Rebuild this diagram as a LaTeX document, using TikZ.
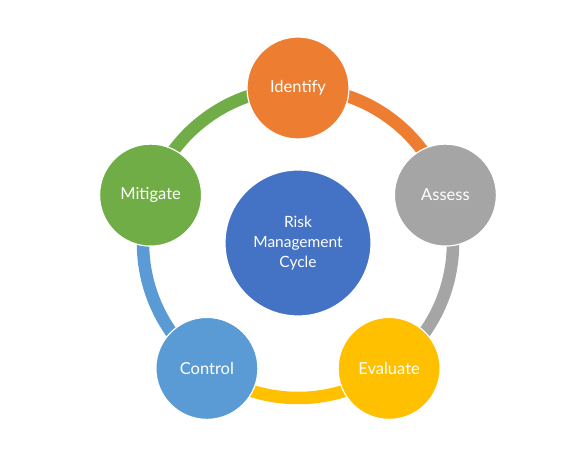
\documentclass[tikz,border=0pt]{standalone}
\usepackage{fontspec}
\setmainfont{Lato}
\usetikzlibrary{backgrounds,calc}
\definecolor{cOrange}{HTML}{ED7D31}
\definecolor{cGray}{HTML}{A5A5A5}
\definecolor{cYellow}{HTML}{FFC000}
\definecolor{cLBlue}{HTML}{5B9BD5}
\definecolor{cGreen}{HTML}{70AD47}
\definecolor{cDBlue}{HTML}{4472C4}
\begin{document}
\begin{tikzpicture}[x=1pt,y=1pt,
  stage/.style={circle,draw=white,line width=1.2pt,minimum size=102pt,inner sep=0pt,text=white,font=\fontsize{16.5}{19}\selectfont},
  hub/.style={circle,draw=white,line width=1.2pt,minimum size=146pt,inner sep=0pt,text=white,align=center,font=\fontsize{15.5}{20}\selectfont},
  ring/.style={line width=12.5pt}]
\useasboundingbox (0,0) rectangle (583,449);
\coordinate (c) at (298,206);
\node[hub,fill=cDBlue] (hubn) at (c) {Risk\\Management\\Cycle};
\node[stage,fill=cOrange] (ident) at ($(c)+(90:155)$) {Identify};
\node[stage,fill=cGray] (assess) at ($(c)+(18:155)$) {Assess};
\node[stage,fill=cYellow] (evalu) at ($(c)+(-54:155)$) {Evaluate};
\node[stage,fill=cLBlue] (contr) at ($(c)+(-126:155)$) {Control};
\node[stage,fill=cGreen] (mitig) at ($(c)+(162:155)$) {Mitigate};
\begin{scope}[on background layer]
\fill[white] (0,0) rectangle (583,449);
\draw[ring,cOrange] (ident.center) arc[start angle=90,end angle=18,radius=155];
\draw[ring,cGray] (assess.center) arc[start angle=18,end angle=-54,radius=155];
\draw[ring,cYellow] (evalu.center) arc[start angle=-54,end angle=-126,radius=155];
\draw[ring,cLBlue] (contr.center) arc[start angle=-126,end angle=-198,radius=155];
\draw[ring,cGreen] (mitig.center) arc[start angle=162,end angle=90,radius=155];
\end{scope}
\end{tikzpicture}
\end{document}
